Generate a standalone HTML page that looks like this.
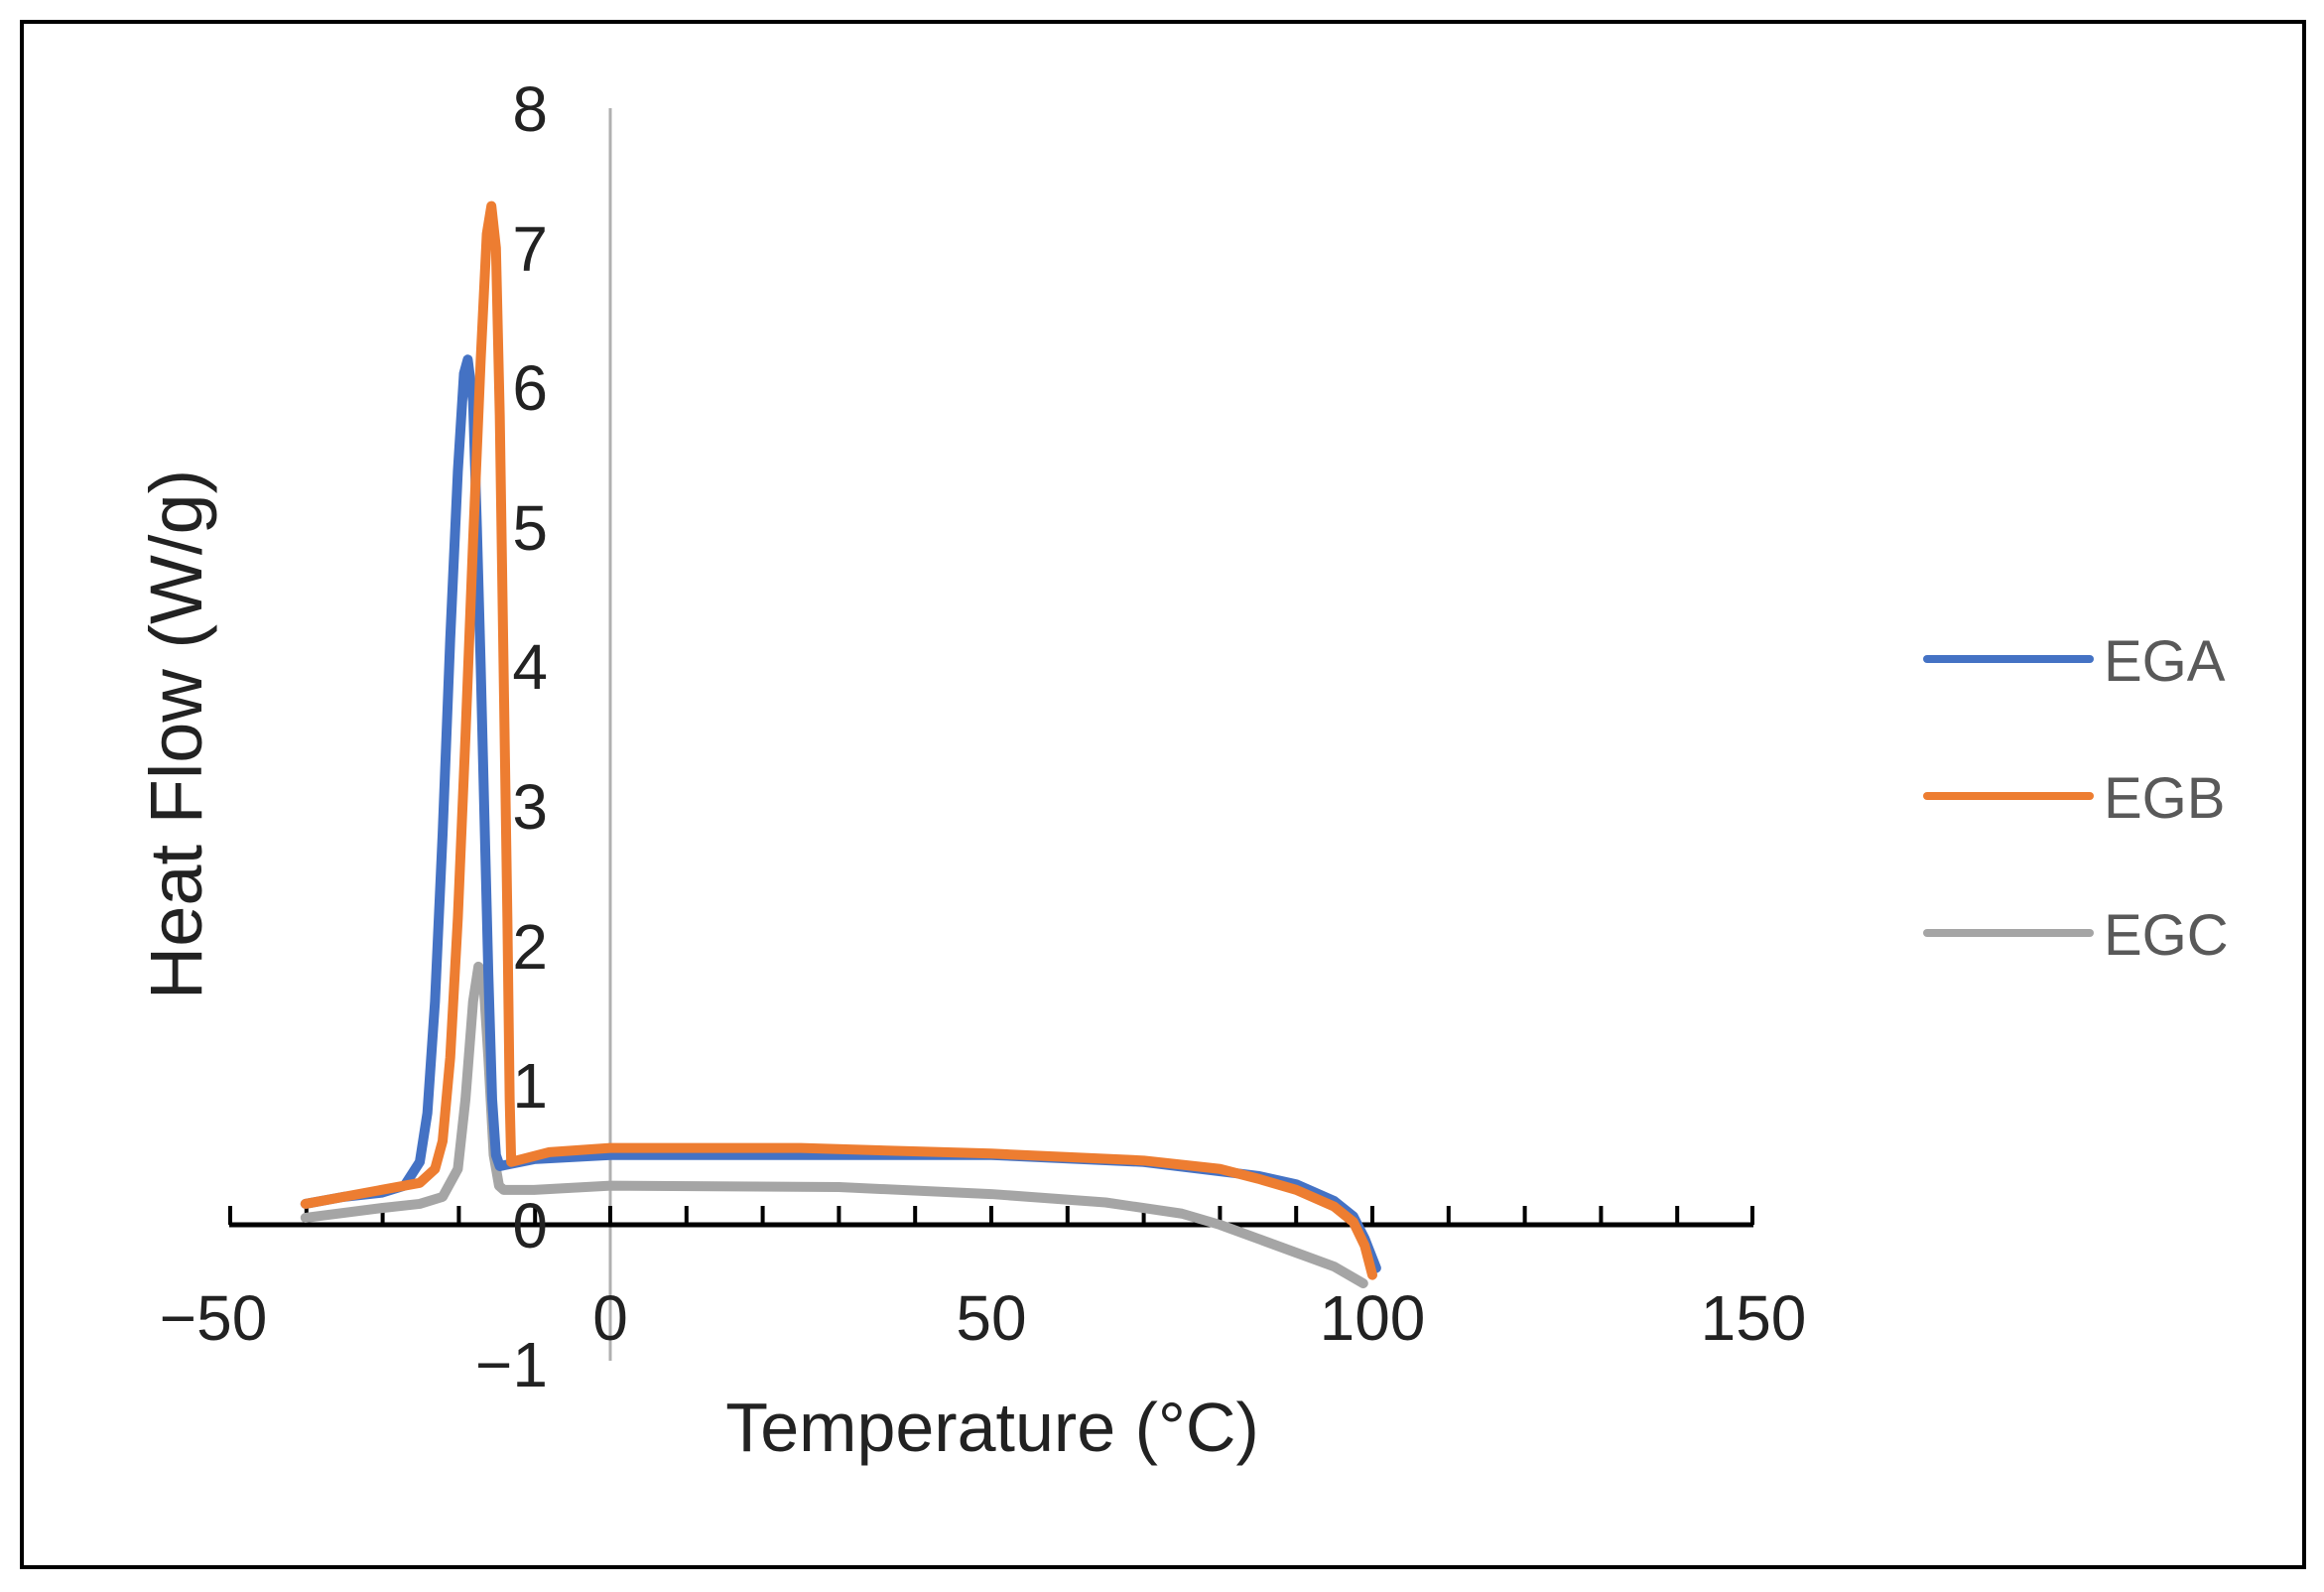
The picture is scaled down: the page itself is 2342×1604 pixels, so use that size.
<!DOCTYPE html>
<html><head><meta charset="utf-8"><style>
html,body{margin:0;padding:0;background:#fff}
svg{display:block}
text{font-family:"Liberation Sans",sans-serif}
</style></head><body>
<svg width="2342" height="1604" viewBox="0 0 2342 1604" xmlns="http://www.w3.org/2000/svg">
<rect x="0" y="0" width="2342" height="1604" fill="#fff"/>
<rect x="22" y="22" width="2300" height="1557" fill="none" stroke="#000" stroke-width="4"/>
<line x1="615" y1="109" x2="615" y2="1371" stroke="#b0b0b0" stroke-width="3"/>
<line x1="231" y1="1234" x2="1767" y2="1234" stroke="#000" stroke-width="5"/>
<g stroke="#000" stroke-width="4">
<line x1="232" y1="1215" x2="232" y2="1234"/><line x1="308.8" y1="1215" x2="308.8" y2="1234"/><line x1="385.6" y1="1215" x2="385.6" y2="1234"/><line x1="462.4" y1="1215" x2="462.4" y2="1234"/><line x1="539.2" y1="1215" x2="539.2" y2="1234"/><line x1="615" y1="1215" x2="615" y2="1234"/><line x1="691.8" y1="1215" x2="691.8" y2="1234"/><line x1="768.6" y1="1215" x2="768.6" y2="1234"/><line x1="845.4" y1="1215" x2="845.4" y2="1234"/><line x1="922.2" y1="1215" x2="922.2" y2="1234"/><line x1="999" y1="1215" x2="999" y2="1234"/><line x1="1075.8" y1="1215" x2="1075.8" y2="1234"/><line x1="1152.6" y1="1215" x2="1152.6" y2="1234"/><line x1="1229.4" y1="1215" x2="1229.4" y2="1234"/><line x1="1306.2" y1="1215" x2="1306.2" y2="1234"/><line x1="1383" y1="1215" x2="1383" y2="1234"/><line x1="1459.8" y1="1215" x2="1459.8" y2="1234"/><line x1="1536.6" y1="1215" x2="1536.6" y2="1234"/><line x1="1613.4" y1="1215" x2="1613.4" y2="1234"/><line x1="1690.2" y1="1215" x2="1690.2" y2="1234"/><line x1="1766" y1="1215" x2="1766" y2="1234"/>
</g>
<g transform="translate(615,1234) scale(7.68,-140.6)" fill="none" stroke-linejoin="round" stroke-linecap="round">
<polyline vector-effect="non-scaling-stroke" stroke="#A5A5A5" stroke-width="10" points="-40,0.05 -30,0.12 -25,0.15 -22,0.2 -20,0.4 -19,0.9 -18,1.6 -17.3,1.85 -16.7,1.8 -16,1.2 -15.3,0.5 -14.6,0.28 -14,0.25 -10,0.25 0,0.28 30,0.27 50,0.22 65,0.16 75,0.08 80,0 85,-0.1 90,-0.2 95,-0.3 98.8,-0.42"/>
<polyline vector-effect="non-scaling-stroke" stroke="#4472C4" stroke-width="10" points="-40,0.15 -35,0.2 -30,0.23 -27,0.28 -25,0.45 -24,0.8 -23,1.6 -22,2.8 -21,4.2 -20,5.4 -19.2,6.1 -18.7,6.2 -18,5.9 -17.5,5 -17,4 -16.5,2.9 -16,1.8 -15.5,0.9 -15,0.5 -14.5,0.42 -10,0.47 0,0.5 50,0.5 70,0.45 85,0.35 90,0.29 95,0.17 97.5,0.06 99,-0.1 100.5,-0.31"/>
<polyline vector-effect="non-scaling-stroke" stroke="#ED7D31" stroke-width="10" points="-40,0.15 -35,0.2 -30,0.25 -25,0.3 -23,0.4 -22,0.6 -21,1.2 -20,2.2 -19,3.5 -18,4.9 -17,6.2 -16.2,7.1 -15.6,7.3 -15,7 -14.5,5.8 -14,4 -13.5,2.2 -13.2,0.9 -13,0.45 -8,0.52 0,0.55 25,0.55 50,0.51 70,0.46 80,0.4 85,0.33 90,0.25 95,0.13 97.5,0.02 99,-0.15 100,-0.36"/>
</g>
<g font-size="64" fill="#222" text-anchor="end">
<text x="552" y="132">8</text><text x="552" y="273">7</text><text x="552" y="413">6</text><text x="552" y="554">5</text><text x="552" y="694">4</text><text x="552" y="835">3</text><text x="552" y="976">2</text><text x="552" y="1116">1</text><text x="552" y="1257">0</text><text x="552" y="1397">−1</text>
</g>
<g font-size="64" fill="#222" text-anchor="middle">
<text x="215" y="1350">−50</text><text x="615" y="1350">0</text><text x="999" y="1350">50</text><text x="1383" y="1350">100</text><text x="1767" y="1350">150</text>
</g>
<text x="1000" y="1462" font-size="70" fill="#222" text-anchor="middle">Temperature (°C)</text>
<text transform="translate(203,740) rotate(-90)" font-size="74" fill="#222" text-anchor="middle">Heat Flow (W/g)</text>
<g stroke-width="8" stroke-linecap="round">
<line x1="1942" y1="664" x2="2106" y2="664" stroke="#4472C4"/>
<line x1="1942" y1="802" x2="2106" y2="802" stroke="#ED7D31"/>
<line x1="1942" y1="940" x2="2106" y2="940" stroke="#A5A5A5"/>
</g>
<g font-size="58" fill="#595959">
<text x="2120" y="686">EGA</text><text x="2120" y="824">EGB</text><text x="2120" y="962">EGC</text>
</g>
</svg>
</body></html>
